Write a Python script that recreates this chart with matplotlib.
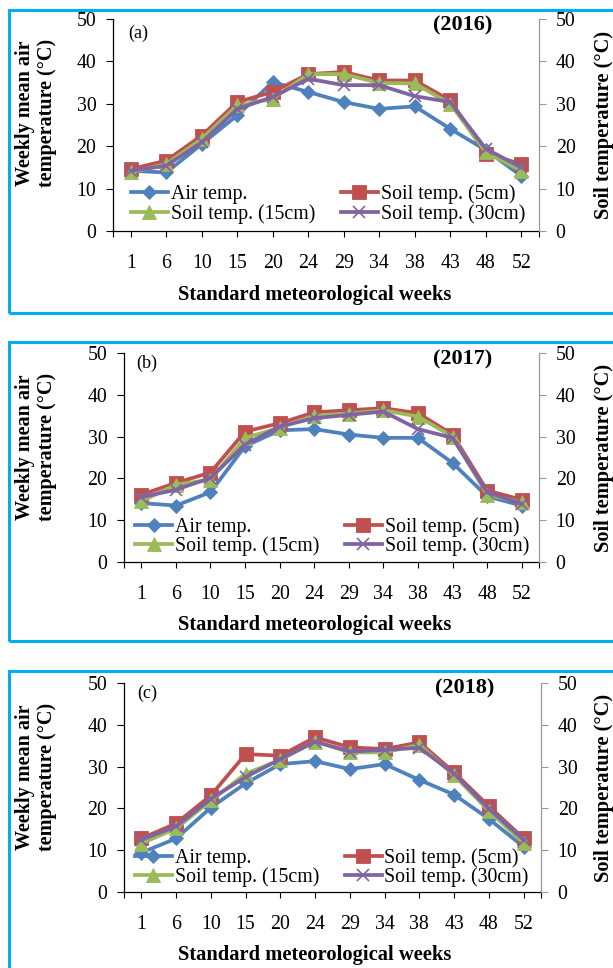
import matplotlib
matplotlib.use('Agg')
import matplotlib.pyplot as plt
from matplotlib.patches import Rectangle

plt.rcParams['font.family'] = ['Liberation Serif', 'DejaVu Serif']

weeks = ['1', '6', '10', '15', '20', '24', '29', '34', '38', '43', '48', '52']

# 2016
air_2016  = [14.2, 13.8, 20.5, 27.3, 35.1, 32.8, 30.4, 28.8, 29.4, 24.1, 19.1, 13.0]
s5_2016   = [14.6, 16.6, 22.5, 30.4, 32.8, 37.0, 37.5, 35.5, 35.5, 30.8, 18.2, 15.8]
s15_2016  = [13.8, 15.8, 21.7, 29.6, 31.2, 37.0, 37.0, 34.9, 34.8, 30.0, 18.6, 14.2]
s30_2016  = [14.2, 15.4, 20.9, 28.8, 31.6, 35.9, 34.4, 34.4, 31.8, 30.4, 19.4, 15.0]

# 2017
air_2017  = [14.1, 13.5, 16.7, 27.7, 31.5, 31.8, 30.5, 29.7, 29.7, 23.7, 15.7, 13.5]
s5_2017   = [16.1, 18.9, 21.4, 31.2, 33.2, 35.8, 36.3, 36.8, 35.6, 30.5, 17.1, 14.9]
s15_2017  = [14.5, 18.5, 19.7, 29.7, 32.1, 35.0, 35.5, 36.3, 34.8, 30.0, 16.1, 14.3]
s30_2017  = [15.5, 17.3, 20.1, 28.1, 32.4, 34.4, 35.2, 36.0, 31.8, 29.7, 16.7, 13.9]

# 2018
air_2018  = [9.4, 12.8, 20.2, 26.0, 30.6, 31.3, 29.4, 30.6, 26.8, 23.3, 17.5, 10.8]
s5_2018   = [12.8, 16.4, 23.1, 33.0, 32.6, 37.0, 34.6, 34.2, 35.8, 28.6, 20.5, 12.8]
s15_2018  = [11.6, 15.2, 21.9, 28.3, 31.6, 36.0, 33.4, 33.4, 35.2, 27.9, 19.4, 11.7]
s30_2018  = [12.5, 15.7, 22.3, 27.5, 31.8, 36.0, 33.6, 34.0, 34.5, 28.3, 19.9, 12.5]

labels = ['Air temp.', 'Soil temp. (5cm)', 'Soil temp. (15cm)', 'Soil temp. (30cm)']
colors = ['#4F81BD', '#C0504D', '#9BBB59', '#8064A2']
markers = ['D', 's', '^', 'x']
msizes = [7.5, 9.5, 9.5, 8.5]

W, H = 613, 968
fig = plt.figure(figsize=(W / 100, H / 100), dpi=100)

def fx(x):
    return x / W

def fy(y):
    return 1 - y / H

# panel layout in pixels: axes box, frame top/bottom, legend anchor, text positions
panels = [
    dict(data=[air_2016, s5_2016, s15_2016, s30_2016], box=(113, 19, 539, 231),
         frame=(10, 313), leg=(0.042, 0.128), tag='(a)', year='(2016)',
         tagpos=(138, 33), yearpos=(463, 25), ylab_y=113, xlab_y=295),
    dict(data=[air_2017, s5_2017, s15_2017, s30_2017], box=(124, 353, 539, 562),
         frame=(342, 641), leg=(0.027, 0.122), tag='(b)', year='(2017)',
         tagpos=(147, 363), yearpos=(463, 359), ylab_y=447, xlab_y=625),
    dict(data=[air_2018, s5_2018, s15_2018, s30_2018], box=(124, 683, 541, 892),
         frame=(671, 980), leg=(0.026, 0.117), tag='(c)', year='(2018)',
         tagpos=(147, 693), yearpos=(465, 688), ylab_y=777, xlab_y=955),
]

x = list(range(len(weeks)))
fs = 14.3

for p in panels:
    l, t, r, b = p['box']
    ax = fig.add_axes([fx(l), fy(b), fx(r) - fx(l), fy(t) - fy(b)])
    lines = []
    for vals, lab, c, m, ms in zip(p['data'], labels, colors, markers, msizes):
        ln, = ax.plot(x, vals, color=c, lw=2.7, marker=m, ms=ms,
                      mew=1.2 if m == 'x' else 0.6, mec=c, label=lab)
        lines.append(ln)
    ax.set_xlim(-0.5, 11.5)
    ax.set_ylim(0, 50)
    ax.set_yticks(range(0, 51, 10))
    ax.set_xticks(x)
    ax.set_xticklabels(weeks)
    ax.set_xticks([-0.5, 11.5], minor=True)
    ax.tick_params(axis='x', which='both', direction='out', length=4, width=0.8, pad=12.5,
                   labelsize=fs)
    ax.tick_params(axis='y', direction='out', length=5, width=0.8, pad=7, labelsize=fs)
    ax.spines['top'].set_visible(False)
    ax.spines['right'].set_visible(False)
    for s in ['left', 'bottom']:
        ax.spines[s].set_linewidth(0.9)

    ax2 = ax.twinx()
    ax2.set_ylim(0, 50)
    ax2.set_yticks(range(0, 51, 10))
    ax2.tick_params(axis='y', direction='out', length=5, width=0.8, color='#999999',
                    pad=7, labelsize=fs)
    for s in ['top', 'left', 'bottom']:
        ax2.spines[s].set_visible(False)
    ax2.spines['right'].set_color('#999999')
    ax2.spines['right'].set_linewidth(0.9)

    # column-wise fill: air / 15cm in the first column, 5cm / 30cm in the second
    order = [0, 2, 1, 3]
    ax.legend([lines[i] for i in order], [labels[i] for i in order],
              loc='center left', bbox_to_anchor=p['leg'], ncol=2, frameon=False,
              fontsize=fs, handlelength=1.85, handletextpad=0.15, columnspacing=1.3,
              labelspacing=0.0, borderpad=0, borderaxespad=0)

    fig.text(fx(p['tagpos'][0]), fy(p['tagpos'][1]), p['tag'], fontsize=13,
             ha='center', va='center')
    fig.text(fx(p['yearpos'][0]), fy(p['yearpos'][1]), p['year'], fontsize=16,
             fontweight='bold', ha='center', va='center')
    fig.text(fx(36), fy(p['ylab_y']), 'Weekly mean air\ntemperature (°C)', fontsize=14.5,
             fontweight='bold', rotation=90, ha='center', va='center', linespacing=1.1)
    fig.text(fx(604), fy((t + b) / 2), 'Soil temperature (°C)', fontsize=14.7,
             fontweight='bold', rotation=90, ha='center', va='center')
    fig.text(fx(315), fy(p['xlab_y']), 'Standard meteorological weeks', fontsize=14.8,
             fontweight='bold', ha='center', va='center')

    ft, fb = p['frame']
    fig.patches.append(Rectangle((fx(9), fy(fb)), 1.2, fy(ft) - fy(fb),
                                 transform=fig.transFigure, fill=False,
                                 edgecolor='#00AEEF', lw=2.2))

fig.savefig('out.png', dpi=100)
